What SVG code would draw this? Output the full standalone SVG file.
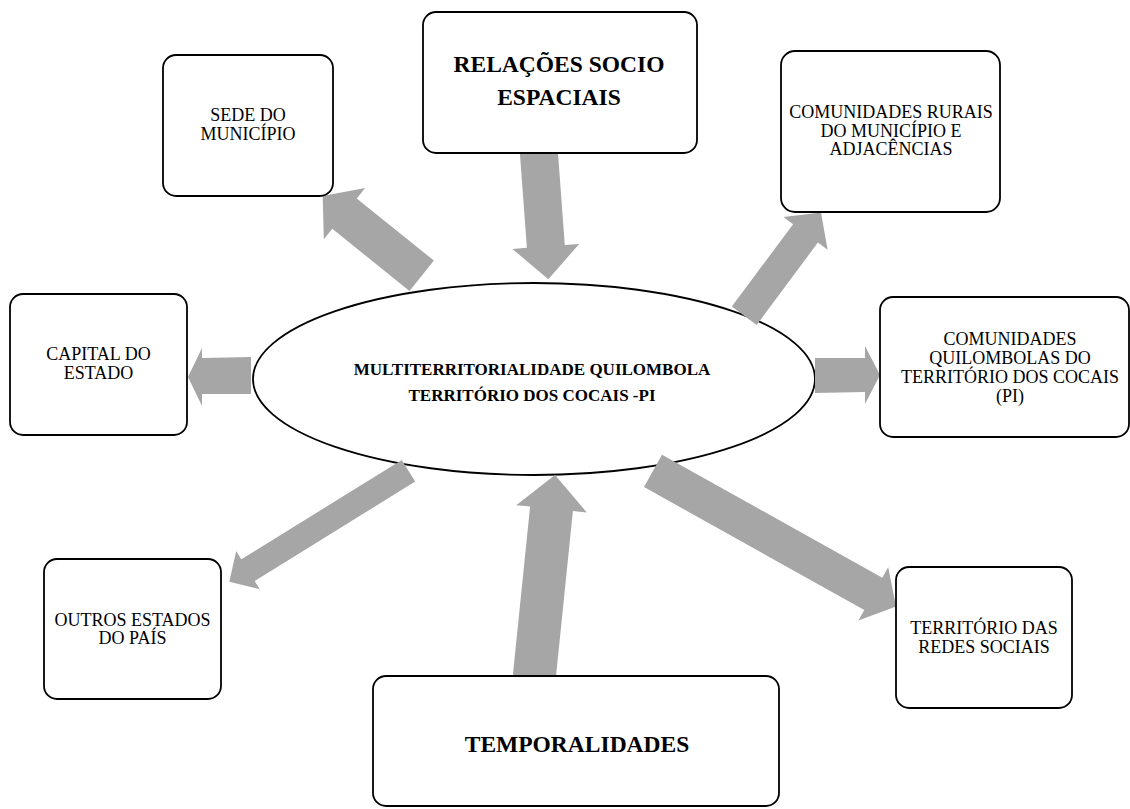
<svg xmlns="http://www.w3.org/2000/svg" width="1130" height="809" viewBox="0 0 1130 809">
<style>
.box{fill:#fff;stroke:#000;stroke-width:1.8}
.ell{fill:#fff;stroke:#000;stroke-width:1.8}
.arr{fill:#a6a6a6;stroke:none}
text{font-family:'Liberation Serif',Tinos,'Times New Roman',Times,'DejaVu Serif',serif;fill:#000;text-anchor:middle}
.t{font-size:18px}
.tb{font-size:23.5px;font-weight:bold}
.tc{font-size:17px;font-weight:bold}
</style>
<rect width="1130" height="809" fill="#fff"/>
<g id="center">
<ellipse class="ell" cx="534" cy="379" rx="281" ry="96"/>
<text class="tc" x="532" y="375">MULTITERRITORIALIDADE QUILOMBOLA</text>
<text class="tc" x="532" y="401">TERRITÓRIO DOS COCAIS -PI</text>
</g>
<g id="connectors">
<polygon class="arr" points="433.9,260.6 356.7,198.4 365.2,187.9 322.7,196 323.8,239.3 332.3,228.8 409.5,291.0"/>
<polygon class="arr" points="519.9,153.4 526.9,247.8 512.4,248.9 548.3,279.3 579.2,243.9 564.8,245.0 557.8,150.6"/>
<polygon class="arr" points="756.6,325.1 817.9,242.6 827.6,249.8 821,212.5 783.4,217.0 793.1,224.2 731.8,306.6"/>
<polygon class="arr" points="815,358 865,358 865,346 880,375 865,404 865,392 815,393"/>
<polygon class="arr" points="251,357 202,358 202,348 188,377 202,406 202,394 251,394"/>
<polygon class="arr" points="401.8,460.0 241.3,559.3 236.2,551.0 229.3,581.7 259.8,589.2 254.7,580.9 415.2,481.6"/>
<polygon class="arr" points="555.7,679.2 572.9,511.0 586.8,512.4 555,475 516.2,505.2 530.1,506.6 512.9,674.8"/>
<polygon class="arr" points="644.0,487.0 864.3,610.0 858.4,620.4 896,606.5 888.2,567.2 882.3,577.7 662.0,454.7"/>
</g>
<g id="sede">
<rect class="box" x="163" y="55" width="170" height="141" rx="13"/>
<text class="t" x="248" y="121">SEDE DO</text>
<text class="t" x="248" y="139.5">MUNICÍPIO</text>
</g>
<g id="relacoes">
<rect class="box" x="423" y="12" width="274" height="141" rx="13"/>
<text class="tb" x="559" y="72">RELAÇÕES SOCIO</text>
<text class="tb" x="559" y="105">ESPACIAIS</text>
</g>
<g id="rurais">
<rect class="box" x="781" y="51" width="219" height="161" rx="14"/>
<text class="t" x="891" y="118.3">COMUNIDADES RURAIS</text>
<text class="t" x="891" y="136.7">DO MUNICÍPIO E</text>
<text class="t" x="891" y="155">ADJACÊNCIAS</text>
</g>
<g id="capital">
<rect class="box" x="10" y="294" width="177" height="141" rx="13"/>
<text class="t" x="98.5" y="360">CAPITAL DO</text>
<text class="t" x="98.5" y="378.5">ESTADO</text>
</g>
<g id="quilombolas">
<rect class="box" x="880" y="297" width="249" height="140" rx="13"/>
<text class="t" x="1010" y="345">COMUNIDADES</text>
<text class="t" x="1010" y="364">QUILOMBOLAS DO</text>
<text class="t" x="1010" y="382.7">TERRITÓRIO DOS COCAIS</text>
<text class="t" x="1010" y="401.5">(PI)</text>
</g>
<g id="outros">
<rect class="box" x="44" y="559" width="177" height="140" rx="13"/>
<text class="t" x="132.5" y="625.7">OUTROS ESTADOS</text>
<text class="t" x="132.5" y="644">DO PAÍS</text>
</g>
<g id="redes">
<rect class="box" x="896" y="567" width="176" height="141" rx="13"/>
<text class="t" x="984" y="634.3">TERRITÓRIO DAS</text>
<text class="t" x="984" y="653.3">REDES SOCIAIS</text>
</g>
<g id="temporalidades">
<rect class="box" x="373" y="676" width="406" height="130" rx="13"/>
<text class="tb" x="577" y="752">TEMPORALIDADES</text>
</g>
</svg>
